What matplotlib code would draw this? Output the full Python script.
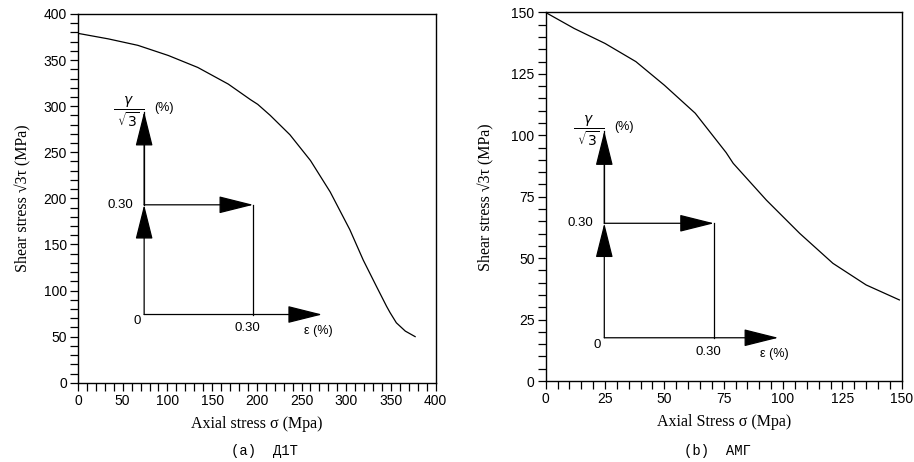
import matplotlib.pyplot as plt
from matplotlib.patches import FancyArrowPatch
from matplotlib.ticker import MultipleLocator

# (a) Д1Т curve
sig_a = [0, 34, 67, 101, 134, 168, 193, 201, 215, 237, 260, 282, 304, 319, 334,
         345, 349, 356, 366, 377]
tau_a = [379, 373, 366, 355, 342, 324, 307, 302, 290, 269, 241, 207, 166, 133,
         104, 83, 76, 65, 56, 50]
# (b) АМГ curve
sig_b = [0, 12, 25, 38, 50, 63, 76, 79, 93, 107, 121, 135, 149]
tau_b = [150, 143.5, 137.4, 130, 120.4, 109, 93, 88.6, 73.6, 60.1, 47.9, 39.1, 33]

# loading path insets: (origin x, origin y, 0.30 x, 0.30 y, x-arrow end, y-arrow end)
path_a = [74, 74, 196, 193, 273, 294]
path_b = [24.7, 17.6, 70.9, 64.2, 98, 101.7]

SANS = ["Liberation Sans", "DejaVu Sans"]
SERIF = ["Liberation Serif", "DejaVu Serif"]
MONO = ["Liberation Mono", "DejaVu Sans Mono"]

fig = plt.figure(figsize=(9.14, 4.62), dpi=100)
ax1 = fig.add_axes([0.0853, 0.1716, 0.3914, 0.7981])
ax2 = fig.add_axes([0.597, 0.1753, 0.3896, 0.7977])


def arrow(ax, p0, p1):
    ax.add_patch(FancyArrowPatch(p0, p1, arrowstyle="-|>,head_length=22,head_width=5.5",
                                 mutation_scale=1, lw=0.9, color="black",
                                 shrinkA=0, shrinkB=0))


def label(ax, txt, xy, off, **kw):
    kw.setdefault("family", SANS)
    kw.setdefault("fontsize", 9)
    ax.annotate(txt, xy=xy, xytext=off, textcoords="offset points",
                ha="center", va="center", **kw)


def draw_path(ax, p):
    x0, y0, x3, y3, xe, ye = p
    arrow(ax, (x0, y0), (x0, y3))
    ax.plot([x0, x0], [y3, ye], color="black", lw=0.9)
    arrow(ax, (x0, y3), (x0, ye))
    arrow(ax, (x0, y3), (x3, y3))
    ax.plot([x3, x3], [y3, y0], color="black", lw=0.9)
    arrow(ax, (x0, y0), (xe, y0))
    label(ax, "0", (x0, y0), (-5, -5), fontsize=9.5)
    label(ax, "0.30", (x0, y3), (-17, 0), fontsize=9.5)
    label(ax, "0.30", (x3, y0), (-4, -10), fontsize=9.5)
    label(ax, "ε (%)", (xe, y0), (-3, -12))
    label(ax, r"$\dfrac{\gamma}{\ \sqrt{3}\ }$", (x0, ye), (-11, 0),
          family=None, fontsize=10)
    label(ax, "(%)", (x0, ye), (14, 3))


def style(ax, xmax, ymax, major_x, minor_x, major_y, minor_y):
    ax.set_xlim(0, xmax)
    ax.set_ylim(0, ymax)
    ax.xaxis.set_major_locator(MultipleLocator(major_x))
    ax.xaxis.set_minor_locator(MultipleLocator(minor_x))
    ax.yaxis.set_major_locator(MultipleLocator(major_y))
    ax.yaxis.set_minor_locator(MultipleLocator(minor_y))
    ax.tick_params(which="both", direction="out", length=6, width=0.9,
                   top=False, right=False, pad=2)
    for lab in ax.get_xticklabels() + ax.get_yticklabels():
        lab.set_family(SANS)
        lab.set_fontsize(10)
    for s in ax.spines.values():
        s.set_linewidth(1.0)


ax1.plot(sig_a, tau_a, color="black", lw=0.9)
style(ax1, 400, 400, 50, 10, 50, 10)
draw_path(ax1, path_a)
ax1.set_xlabel("Axial stress σ (Mpa)", family=SERIF, fontsize=11.5, labelpad=6)
ax1.set_ylabel("Shear stress √3τ (MPa)", family=SERIF, fontsize=11.5, labelpad=9)

ax2.plot(sig_b, tau_b, color="black", lw=0.9)
style(ax2, 150, 150, 25, 5, 25, 5)
draw_path(ax2, path_b)
ax2.set_xlabel("Axial Stress σ (Mpa)", family=SERIF, fontsize=11.5, labelpad=6)
ax2.set_ylabel("Shear stress √3τ (MPa)", family=SERIF, fontsize=11.5, labelpad=12)

fig.text(0.289, 0.024, "(a)  Д1Т", family=MONO, fontsize=10, ha="center", va="center")
fig.text(0.785, 0.024, "(b)  АМГ", family=MONO, fontsize=10, ha="center", va="center")

fig.savefig("out.png", dpi=100)
